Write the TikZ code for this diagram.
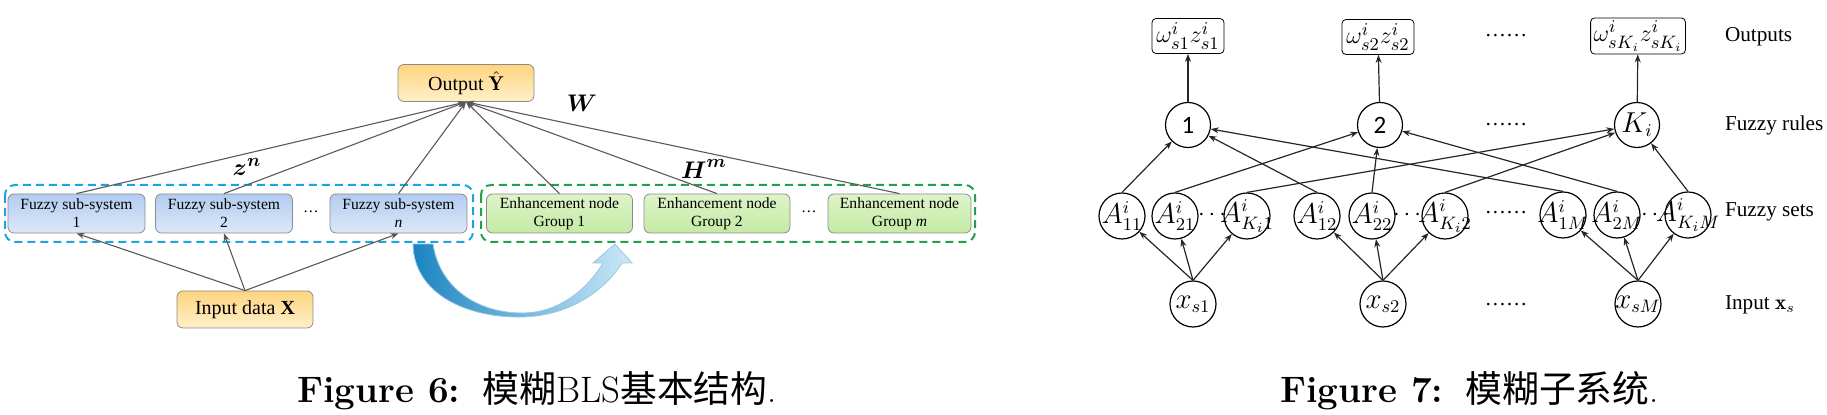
\documentclass[tikz,border=0pt]{standalone}
\usepackage{amsmath}
\usepackage{fontspec}
\newfontfamily\timesf{Liberation Serif}
\newfontfamily\cjk{Noto Sans CJK SC}
\newfontfamily\calf{Carlito}
\usetikzlibrary{arrows.meta}

\definecolor{azulborde}{HTML}{1FA3DC}
\definecolor{verdeborde}{HTML}{22A04E}
\definecolor{azularriba}{HTML}{B2CCF0}
\definecolor{azulabajo}{HTML}{DCE8F9}
\definecolor{verdearriba}{HTML}{DDF4C9}
\definecolor{verdeabajo}{HTML}{C4EAA4}
\definecolor{naranjaarriba}{HTML}{FFD47F}
\definecolor{naranjaabajo}{HTML}{FFF0C9}
\definecolor{flechaosc}{HTML}{1B84C1}
\definecolor{flechacla}{HTML}{CDE9F9}

\newcommand{\dentro}[1]{\makebox[0pt]{$#1$}}

\tikzset{
  caja/.style={draw=black!45, rounded corners=3pt, align=center, inner sep=1pt,
    font=\timesf\fontsize{7.8}{9}\selectfont},
  fuzzy/.style={caja, top color=azularriba, bottom color=azulabajo,
    minimum width=68.5pt, minimum height=19.5pt},
  enh/.style={caja, top color=verdearriba, bottom color=verdeabajo,
    minimum width=73pt, minimum height=19.5pt},
  io/.style={caja, top color=naranjaarriba, bottom color=naranjaabajo,
    minimum width=68pt, minimum height=18.5pt, font=\timesf\fontsize{10}{12}\selectfont},
  flecha/.style={-{Stealth[length=4pt,width=3pt]}, draw=black!65, line width=0.55pt},
  grupo/.style={dashed, dash pattern=on 4pt off 2.5pt, line width=1pt, rounded corners=5pt},
  etiq/.style={font=\fontsize{12.5}{14}\selectfont},
  salida/.style={draw, rounded corners=2pt, inner sep=1.5pt, minimum width=36pt,
    minimum height=17.5pt, font=\fontsize{13}{15}\selectfont},
  regla/.style={circle, draw, minimum size=22.5pt, inner sep=0pt, line width=0.6pt,
    font=\fontsize{13.5}{15}\selectfont},
  conj/.style={circle, draw, minimum size=23pt, inner sep=0pt, line width=0.6pt,
    font=\fontsize{13.5}{15}\selectfont},
  fl7/.style={-{Stealth[length=4pt,width=3pt]}, draw=black!85, line width=0.6pt},
  capa/.style={anchor=west, font=\timesf\fontsize{10.6}{12}\selectfont},
  puntos/.style={font=\timesf\fontsize{10.6}{12}\selectfont},
  pie/.style={anchor=base west, inner sep=0pt, font=\fontsize{18.4}{20}\selectfont}
}

\begin{document}
\begin{tikzpicture}[x=0.5pt,y=-0.5pt]
\useasboundingbox (0,0) rectangle (1827,415);

% Grupos punteados
\draw[grupo, azulborde] (5,185) rectangle (473,242);
\draw[grupo, verdeborde] (481,185) rectangle (975,242);

% Salida y entrada
\node[io] (out) at (466,83) {Output $\hat{\mathbf{Y}}$};
\node[io] (inp) at (245,309.5) {Input data \textbf{X}};

% Subsistemas difusos
\node[fuzzy] (fz1) at (76.5,213.5) {Fuzzy sub-system\\1};
\node[fuzzy] (fz2) at (224,213.5) {Fuzzy sub-system\\2};
\node[font=\timesf\fontsize{7.8}{9}\selectfont] (pfz) at (311,212) {\ldots};
\node[fuzzy] (fzn) at (398.5,213.5) {Fuzzy sub-system\\\textit{n}};

% Nodos de mejora
\node[enh] (en1) at (559.5,213.5) {Enhancement node\\Group 1};
\node[enh] (en2) at (717,213.5) {Enhancement node\\Group 2};
\node[font=\timesf\fontsize{7.8}{9}\selectfont] (pen) at (809,212) {\ldots};
\node[enh, minimum width=71.5pt] (enm) at (899.5,213.5) {Enhancement node\\Group \textit{m}};

% Etiquetas
\node[etiq] (zn) at (247,167) {$\boldsymbol{z}^{\boldsymbol{n}}$};
\node[etiq] (W) at (582,103) {$\boldsymbol{W}$};
\node[etiq] (Hm) at (704,169) {$\boldsymbol{H}^{\boldsymbol{m}}$};

% Flechas hacia la salida
\draw[flecha] (fz1.north) -- (out.south);
\draw[flecha] (fz2.north) -- (out.south);
\draw[flecha] (fzn.north) -- (out.south);
\draw[flecha] (en1.north) -- (out.south);
\draw[flecha] (en2.north) -- (out.south);
\draw[flecha] (enm.north) -- (out.south);

% Flechas desde la entrada
\draw[flecha] (inp.north) -- (fz1.south);
\draw[flecha] (inp.north) -- (fz2.south);
\draw[flecha] (inp.north) -- (fzn.south);

% Flecha curva grande
\draw[draw=flechaosc!45!white, line width=0.4pt, left color=flechaosc, right color=flechacla]
  (413,244) .. controls (414,296) and (470,318) .. (522,317)
  .. controls (570,316) and (605,290) .. (622,263) -- (632,263) -- (615,244) -- (593,263)
  -- (603,263) .. controls (588,288) and (560,313) .. (522,313)
  .. controls (480,313) and (440,290) .. (433,244) -- cycle;

% Figura 7: salidas
\node[salida] (o1) at (1188,36) {$\omega^i_{s1}z^i_{s1}$};
\node[salida] (o2) at (1378,37) {$\omega^i_{s2}z^i_{s2}$};
\node[salida] (ok) at (1638,36) {$\omega^i_{sK_i}z^i_{sK_i}$};

% Reglas difusas
\node[regla] (r1) at (1188,125) {\calf\fontsize{12.5}{14}\selectfont 1};
\node[regla] (r2) at (1380,125) {\calf\fontsize{12.5}{14}\selectfont 2};
\node[regla] (rk) at (1637,125) {$K_i$};

% Conjuntos difusos
\node[conj] (a11) at (1122,216) {\dentro{A^i_{11}}};
\node[conj] (a21) at (1175,216) {\dentro{A^i_{21}}};
\node[conj] (ak1) at (1247,216) {\dentro{A^i_{K_i1}}};
\node[conj] (a12) at (1317,216) {\dentro{A^i_{12}}};
\node[conj] (a22) at (1372,216) {\dentro{A^i_{22}}};
\node[conj] (ak2) at (1445,216) {\dentro{A^i_{K_i2}}};
\node[conj] (a1m) at (1563,215) {\dentro{A^i_{1M}}};
\node[conj] (a2m) at (1617,215) {\dentro{A^i_{2M}}};
\node[conj] (akm) at (1688,215) {\dentro{A^i_{K_iM}}};

% Entradas
\node[conj] (x1) at (1193,304) {\dentro{x_{s1}}};
\node[conj] (x2) at (1383,304) {\dentro{x_{s2}}};
\node[conj] (xm) at (1638,304) {\dentro{x_{sM}}};

% Puntos
\node[font=\fontsize{12.5}{14}\selectfont] (p1) at (1214,215) {$\cdots$};
\node[font=\fontsize{12.5}{14}\selectfont] (p2) at (1409,215) {$\cdots$};
\node[font=\fontsize{12.5}{14}\selectfont] (p3) at (1657,215) {$\cdots$};
\node[puntos] (q1) at (1506,36) {\ldots\ldots};
\node[puntos] (q2) at (1506,125) {\ldots\ldots};
\node[puntos] (q3) at (1506,213) {\ldots\ldots};
\node[puntos] (q4) at (1506,305) {\ldots\ldots};

% Nombres de capas
\node[capa] (c1) at (1718,37) {Outputs};
\node[capa] (c2) at (1718,125) {Fuzzy rules};
\node[capa] (c3) at (1718,212) {Fuzzy sets};
\node[capa] (c4) at (1718,305) {Input $\mathbf{x}_s$};

% Reglas a salidas
\draw[fl7] (r1) -- (o1);
\draw[fl7] (r2) -- (o2);
\draw[fl7] (rk) -- (ok);

% Conjuntos a reglas
\draw[fl7] (a11.north) -- (r1);
\draw[fl7] (a12.north) -- (r1);
\draw[fl7] (a1m.north) -- (r1);
\draw[fl7] (a21.north) -- (r2);
\draw[fl7] (a22.north) -- (r2);
\draw[fl7] (a2m.north) -- (r2);
\draw[fl7] (ak1.north) -- (rk);
\draw[fl7] (ak2.north) -- (rk);
\draw[fl7] (akm.north) -- (rk);

% Entradas a conjuntos
\draw[fl7] (x1.north) -- (a11);
\draw[fl7] (x1.north) -- (a21);
\draw[fl7] (x1.north) -- (ak1);
\draw[fl7] (x2.north) -- (a12);
\draw[fl7] (x2.north) -- (a22);
\draw[fl7] (x2.north) -- (ak2);
\draw[fl7] (xm.north) -- (a1m);
\draw[fl7] (xm.north) -- (a2m);
\draw[fl7] (xm.north) -- (akm);

% Pies de figura
\node[pie] (pie6) at (297,403) {\textbf{Figure 6:}\hspace{0.6em}{\cjk 模糊}BLS{\cjk 基本结构}.};
\node[pie] (pie7) at (1280,403) {\textbf{Figure 7:}\hspace{0.6em}{\cjk 模糊子系统}.};

\end{tikzpicture}
\end{document}
